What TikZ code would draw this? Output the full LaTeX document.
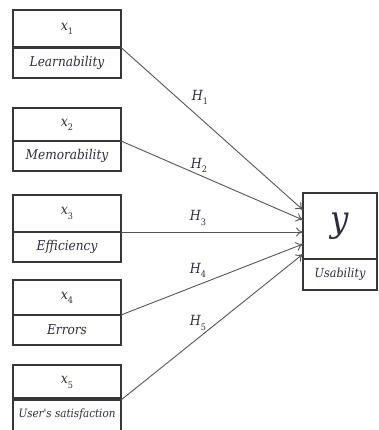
\RequirePackage{fix-cm}
\documentclass[tikz,border=0pt]{standalone}
\usepackage{fontspec}
\newfontfamily\labfont{DejaVu Serif Condensed}
\usetikzlibrary{arrows.meta,calc}
\definecolor{boxline}{RGB}{55,55,55}
\definecolor{conn}{RGB}{85,85,85}
\definecolor{txt}{RGB}{45,45,65}
\newcommand{\var}[2]{{\itshape #1}\raisebox{-0.3em}{\fontsize{9}{10}\selectfont #2}}
\begin{document}
\begin{tikzpicture}[x=1pt,y=-1pt,
  cell/.style={draw=boxline,line width=2pt,rectangle,inner sep=0pt,outer sep=0pt,minimum width=108pt,text=txt},
  topcell/.style={cell,minimum height=37pt,font=\fontsize{14}{16}\selectfont\labfont},
  botcell/.style={cell,minimum height=30pt,font=\fontsize{13.5}{15}\selectfont\labfont\itshape},
  link/.style={draw=conn,line width=0.9pt,-{To[length=7pt,width=9pt]}},
  hyp/.style={text=txt,font=\fontsize{14}{16}\selectfont\labfont,inner sep=1pt}]
\useasboundingbox (0,0) rectangle (378,430);
\clip (0,0) rectangle (378,430);
% left boxes
\node[topcell] (x1) at (67,29) {\var{x}{1}};
\node[botcell] (l1) at (67,63) {Learnability};
\node[topcell,minimum height=33pt] (x2) at (67,124.5) {\var{x}{2}};
\node[botcell] (l2) at (67,156) {Memorability};
\node[topcell] (x3) at (67,213.5) {\var{x}{3}};
\node[botcell] (l3) at (67,247) {Efficiency};
\node[topcell,minimum height=35pt] (x4) at (67,297.5) {\var{x}{4}};
\node[botcell] (l4) at (67,330) {Errors};
\node[topcell,minimum height=35pt] (x5) at (67,382.5) {\var{x}{5}};
\node[botcell,minimum height=33pt,font=\fontsize{11.5}{13}\selectfont\labfont\itshape] (l5) at (67,414.5) {User's satisfaction};
% right box
\node[cell,minimum width=74pt,minimum height=66pt,font=\fontsize{36}{38}\selectfont\labfont\itshape] (y) at (340,226) {y};
\node[cell,minimum width=74pt,minimum height=31pt,font=\fontsize{12.5}{14}\selectfont\labfont\itshape,anchor=north] (u) at (y.south) {Usability};
% arrow end points on the left side of the y box
\coordinate (t1) at ($(y.north west)+(0,17)$);
\coordinate (t2) at ($(y.north west)+(0,27)$);
\coordinate (t3) at ($(y.north west)+(0,39)$);
\coordinate (t4) at ($(y.north west)+(0,51)$);
\coordinate (t5) at ($(y.north west)+(0,61)$);
\draw[link] (x1.south east) -- (t1);
\draw[link] (x2.south east) -- (t2);
\draw[link] (x3.south east) -- (t3);
\draw[link] (x4.south east) -- (t4);
\draw[link] (x5.south east) -- (t5);
% labels
\node[hyp] (h1) at (200,97) {\var{H}{1}};
\node[hyp] (h2) at (199,165) {\var{H}{2}};
\node[hyp] (h3) at (198,218) {\var{H}{3}};
\node[hyp] (h4) at (198,270) {\var{H}{4}};
\node[hyp] (h5) at (198,323) {\var{H}{5}};
\end{tikzpicture}
\end{document}
